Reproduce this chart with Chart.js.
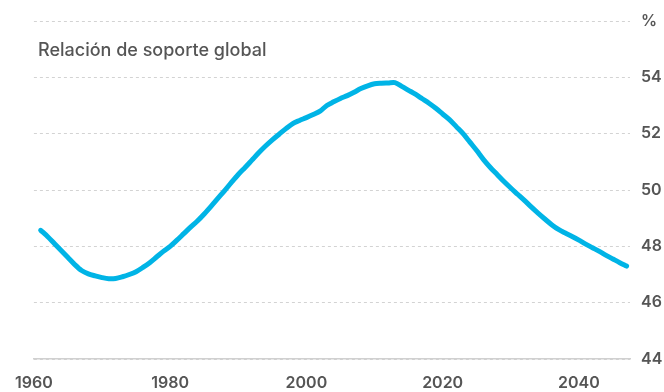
<!DOCTYPE html>
<html>
<head>
<meta charset="utf-8">
<script src="https://cdn.jsdelivr.net/npm/chart.js@4/dist/chart.umd.min.js"></script>
<style>
  html, body { margin: 0; padding: 0; background: #fff; }
  #wrap { position: relative; width: 664px; height: 392px; }
  #title { position: absolute; left: 38px; top: 39px; font-family: Inter, "Noto Sans", sans-serif; font-size: 18px; font-weight: 500; color: #555; white-space: nowrap; }
</style>
</head>
<body>
<div id="wrap">
  <canvas id="c" width="664" height="392"></canvas>
  <div id="title">Relación de soporte global</div>
</div>
<script>
const title = "Relación de soporte global";
const years = [];
for (let y = 1961; y <= 2047; y++) years.push(y);
const supportRatio = [
  48.57, 48.35, 48.10, 47.85, 47.60, 47.35, 47.14, 47.02, 46.95, 46.89,
  46.85, 46.86, 46.92, 47.00, 47.10, 47.25, 47.42, 47.62, 47.82, 48.00,
  48.22, 48.45, 48.68, 48.90, 49.15, 49.42, 49.70, 49.98, 50.27, 50.55,
  50.80, 51.06, 51.32, 51.56, 51.78, 51.98, 52.18, 52.36, 52.47, 52.57,
  52.68, 52.80, 53.00, 53.13, 53.25, 53.35, 53.47, 53.60, 53.70, 53.77,
  53.79, 53.80, 53.81, 53.68, 53.54, 53.40, 53.24, 53.08, 52.90, 52.70,
  52.50, 52.25, 52.00, 51.70, 51.40, 51.08, 50.80, 50.55, 50.30, 50.07,
  49.85, 49.63, 49.40, 49.18, 48.97, 48.77, 48.60, 48.47, 48.35, 48.22,
  48.08, 47.95, 47.82, 47.68, 47.55, 47.42, 47.30
];
const xTicks = [1960, 1980, 2000, 2020, 2040];
const yTicks = [44, 46, 48, 50, 52, 54, 56];
const yUnitLabel = "%";

const points = years.map((yr, i) => ({ x: yr, y: supportRatio[i] }));
const tickFont = { family: "Inter, 'Noto Sans', sans-serif", size: 16, weight: 600 };

new Chart(document.getElementById('c'), {
  type: 'line',
  data: {
    datasets: [{
      data: points,
      borderColor: '#00b4e6',
      borderWidth: 5,
      pointRadius: 0,
      tension: 0.3,
      borderCapStyle: 'round',
      borderJoinStyle: 'round',
      fill: false
    }]
  },
  options: {
    responsive: false,
    animation: false,
    events: [],
    layout: { padding: { left: 29, top: 21, right: 0, bottom: 0 } },
    plugins: { legend: { display: false }, tooltip: { enabled: false }, title: { display: false } },
    scales: {
      x: {
        type: 'linear',
        min: 1960,
        max: 2047.5,
        afterBuildTicks: (s) => { s.ticks = xTicks.map(v => ({ value: v })); },
        afterFit: (s) => { s.height = 33; },
        grid: { display: false, drawTicks: false },
        border: { display: true, color: '#d0d0d0', width: 1.5 },
        ticks: {
          color: '#555',
          font: tickFont,
          padding: 15,
          maxRotation: 0,
          autoSkip: false,
          callback: (v) => String(v)
        }
      },
      y: {
        position: 'right',
        min: 44,
        max: 56,
        afterBuildTicks: (s) => { s.ticks = yTicks.map(v => ({ value: v })); },
        afterFit: (s) => { s.width = 34; },
        grid: { color: '#d3d3d3', lineWidth: 1, drawTicks: false },
        border: { display: false, dash: [3, 3] },
        ticks: {
          color: '#555',
          font: tickFont,
          padding: 11,
          callback: (v) => (v === 56 ? yUnitLabel : String(v))
        }
      }
    }
  }
});
</script>
</body>
</html>
